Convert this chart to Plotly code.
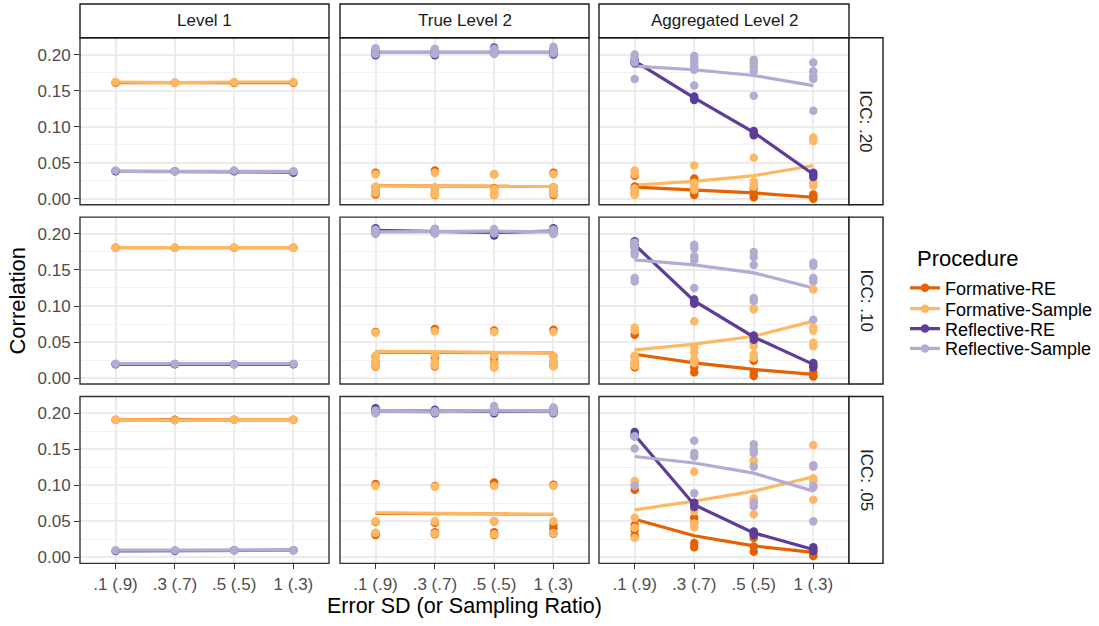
import plotly.graph_objects as go

# ---------------- data ----------------
x_labels = [".1 (.9)", ".3 (.7)", ".5 (.5)", "1 (.3)"]
level_labels = ["Level 1", "True Level 2", "Aggregated Level 2"]
icc_labels = ["ICC: .20", "ICC: .10", "ICC: .05"]
procedures = ["Formative-RE", "Formative-Sample", "Reflective-RE", "Reflective-Sample"]
proc_colors = ["#E66101", "#FDB863", "#5E3C99", "#B2ABD2"]
y_ticks = [0.00, 0.05, 0.10, 0.15, 0.20]

# Level 1
l1_20_pts = {
    "Formative-RE": [[0.161], [0.161], [0.161], [0.161]],
    "Formative-Sample": [[0.162], [0.161], [0.162], [0.162]],
    "Reflective-RE": [[0.038], [0.038], [0.038], [0.036]],
    "Reflective-Sample": [[0.039], [0.038], [0.039], [0.038]],
}
l1_20_mean = {
    "Formative-RE": [0.161, 0.161, 0.161, 0.161],
    "Formative-Sample": [0.162, 0.161, 0.162, 0.162],
    "Reflective-RE": [0.038, 0.038, 0.038, 0.037],
    "Reflective-Sample": [0.038, 0.038, 0.039, 0.038],
}
l1_10_pts = {
    "Formative-RE": [[0.181], [0.181], [0.181], [0.181]],
    "Formative-Sample": [[0.181], [0.181], [0.181], [0.181]],
    "Reflective-RE": [[0.019], [0.019], [0.019], [0.019]],
    "Reflective-Sample": [[0.020], [0.020], [0.019], [0.020]],
}
l1_10_mean = {
    "Formative-RE": [0.181, 0.181, 0.181, 0.181],
    "Formative-Sample": [0.181, 0.181, 0.181, 0.181],
    "Reflective-RE": [0.019, 0.019, 0.019, 0.019],
    "Reflective-Sample": [0.020, 0.020, 0.019, 0.020],
}
l1_05_pts = {
    "Formative-RE": [[0.191], [0.191], [0.191], [0.191]],
    "Formative-Sample": [[0.191], [0.190], [0.191], [0.191]],
    "Reflective-RE": [[0.009], [0.009], [0.010], [0.010]],
    "Reflective-Sample": [[0.010], [0.010], [0.010], [0.010]],
}
l1_05_mean = {
    "Formative-RE": [0.191, 0.191, 0.191, 0.191],
    "Formative-Sample": [0.191, 0.190, 0.191, 0.191],
    "Reflective-RE": [0.009, 0.009, 0.010, 0.010],
    "Reflective-Sample": [0.010, 0.010, 0.010, 0.010],
}

# True Level 2
t2_20_pts = {
    "Formative-RE": [[0.036, 0.016, 0.010, 0.006], [0.039, 0.015, 0.009, 0.005],
                     [0.034, 0.014, 0.008, 0.005], [0.036, 0.016, 0.010, 0.005]],
    "Formative-Sample": [[0.034, 0.017, 0.012, 0.008], [0.036, 0.016, 0.009, 0.006],
                         [0.034, 0.013, 0.009, 0.005], [0.034, 0.016, 0.011, 0.007]],
    "Reflective-RE": [[0.199, 0.203, 0.205], [0.199, 0.202, 0.206],
                      [0.202, 0.206, 0.210], [0.200, 0.203, 0.207]],
    "Reflective-Sample": [[0.201, 0.206, 0.209], [0.201, 0.205, 0.208],
                          [0.201, 0.205, 0.208], [0.202, 0.207, 0.211]],
}
t2_20_mean = {
    "Formative-RE": [0.018, 0.018, 0.017, 0.017],
    "Formative-Sample": [0.018, 0.018, 0.018, 0.017],
    "Reflective-RE": [0.203, 0.203, 0.204, 0.203],
    "Reflective-Sample": [0.203, 0.203, 0.203, 0.203],
}
t2_10_pts = {
    "Formative-RE": [[0.064, 0.030, 0.022, 0.016], [0.068, 0.029, 0.020, 0.016],
                     [0.066, 0.028, 0.021, 0.015], [0.067, 0.030, 0.022, 0.017]],
    "Formative-Sample": [[0.063, 0.031, 0.023, 0.017], [0.065, 0.032, 0.022, 0.017],
                         [0.064, 0.031, 0.020, 0.015], [0.064, 0.030, 0.022, 0.016]],
    "Reflective-RE": [[0.202, 0.205, 0.208], [0.201, 0.204, 0.207],
                      [0.198, 0.201, 0.204], [0.202, 0.205, 0.208]],
    "Reflective-Sample": [[0.200, 0.203, 0.206], [0.201, 0.204, 0.207],
                          [0.201, 0.204, 0.207], [0.200, 0.203, 0.206]],
}
t2_10_mean = {
    "Formative-RE": [0.036, 0.036, 0.035, 0.035],
    "Formative-Sample": [0.037, 0.036, 0.035, 0.035],
    "Reflective-RE": [0.205, 0.204, 0.202, 0.204],
    "Reflective-Sample": [0.203, 0.204, 0.204, 0.203],
}
t2_05_pts = {
    "Formative-RE": [[0.102, 0.049, 0.034, 0.031], [0.099, 0.048, 0.035, 0.032],
                     [0.104, 0.050, 0.035, 0.031], [0.101, 0.045, 0.040, 0.033]],
    "Formative-Sample": [[0.099, 0.050, 0.034], [0.098, 0.050, 0.033],
                         [0.099, 0.050, 0.032], [0.099, 0.050, 0.034]],
    "Reflective-RE": [[0.201, 0.204, 0.207], [0.200, 0.203, 0.205],
                      [0.200, 0.203, 0.206], [0.200, 0.203, 0.206]],
    "Reflective-Sample": [[0.200, 0.204], [0.201, 0.203],
                          [0.202, 0.206, 0.210], [0.201, 0.205, 0.208]],
}
t2_05_mean = {
    "Formative-RE": [0.061, 0.061, 0.061, 0.060],
    "Formative-Sample": [0.062, 0.061, 0.061, 0.060],
    "Reflective-RE": [0.203, 0.203, 0.203, 0.203],
    "Reflective-Sample": [0.203, 0.202, 0.204, 0.203],
}

# Aggregated Level 2
ag_20_pts = {
    "Formative-RE": [[0.032, 0.017, 0.013, 0.008], [0.028, 0.012, 0.009, 0.005],
                     [0.014, 0.006, 0.002], [0.006, 0.003, 0.000]],
    "Formative-Sample": [[0.039, 0.034, 0.014, 0.009, 0.005], [0.046, 0.022, 0.018, 0.012],
                         [0.057, 0.024, 0.020, 0.017], [0.085, 0.080, 0.023, 0.018]],
    "Reflective-RE": [[0.193, 0.190, 0.188], [0.142, 0.139, 0.137],
                      [0.094, 0.091, 0.088], [0.036, 0.033, 0.030]],
    "Reflective-Sample": [[0.200, 0.196, 0.189, 0.166], [0.198, 0.193, 0.189, 0.184, 0.179, 0.157],
                          [0.193, 0.189, 0.184, 0.177, 0.143], [0.189, 0.177, 0.170, 0.166, 0.122]],
}
ag_20_mean = {
    "Formative-RE": [0.016, 0.012, 0.008, 0.002],
    "Formative-Sample": [0.019, 0.024, 0.032, 0.046],
    "Reflective-RE": [0.191, 0.140, 0.092, 0.034],
    "Reflective-Sample": [0.184, 0.179, 0.171, 0.157],
}
ag_10_pts = {
    "Formative-RE": [[0.060, 0.030, 0.020, 0.015], [0.024, 0.015, 0.008],
                     [0.024, 0.008, 0.003], [0.008, 0.004, 0.002]],
    "Formative-Sample": [[0.070, 0.066, 0.031, 0.024, 0.017], [0.079, 0.042, 0.035, 0.026, 0.021],
                         [0.097, 0.095, 0.049, 0.044, 0.033, 0.028], [0.123, 0.070, 0.066, 0.049, 0.044]],
    "Reflective-RE": [[0.190, 0.186, 0.182], [0.109, 0.106, 0.103],
                      [0.059, 0.056, 0.053], [0.021, 0.018, 0.015]],
    "Reflective-Sample": [[0.188, 0.182, 0.175, 0.171, 0.139, 0.134], [0.185, 0.180, 0.169, 0.164, 0.125],
                          [0.175, 0.168, 0.157, 0.111, 0.107], [0.160, 0.156, 0.139, 0.134, 0.081]],
}
ag_10_mean = {
    "Formative-RE": [0.033, 0.021, 0.012, 0.005],
    "Formative-Sample": [0.039, 0.047, 0.058, 0.079],
    "Reflective-RE": [0.185, 0.107, 0.057, 0.019],
    "Reflective-Sample": [0.164, 0.157, 0.146, 0.125],
}
ag_05_pts = {
    "Formative-RE": [[0.094, 0.045, 0.038, 0.030], [0.055, 0.048, 0.020, 0.014],
                     [0.032, 0.027, 0.015, 0.008], [0.009, 0.004, 0.002]],
    "Formative-Sample": [[0.106, 0.102, 0.055, 0.041, 0.027], [0.119, 0.066, 0.064, 0.047, 0.042],
                         [0.135, 0.133, 0.082, 0.078, 0.060], [0.156, 0.110, 0.106, 0.080]],
    "Reflective-RE": [[0.174, 0.171, 0.168], [0.076, 0.073, 0.070],
                      [0.036, 0.034, 0.031], [0.014, 0.012, 0.009]],
    "Reflective-Sample": [[0.168, 0.151, 0.099], [0.162, 0.145, 0.140, 0.089],
                          [0.157, 0.150, 0.145, 0.126, 0.076, 0.071], [0.128, 0.126, 0.099, 0.097, 0.050]],
}
ag_05_mean = {
    "Formative-RE": [0.053, 0.030, 0.016, 0.007],
    "Formative-Sample": [0.066, 0.078, 0.092, 0.112],
    "Reflective-RE": [0.170, 0.073, 0.034, 0.011],
    "Reflective-Sample": [0.140, 0.131, 0.117, 0.092],
}

panel_points = [[l1_20_pts, t2_20_pts, ag_20_pts],
                [l1_10_pts, t2_10_pts, ag_10_pts],
                [l1_05_pts, t2_05_pts, ag_05_pts]]
panel_means = [[l1_20_mean, t2_20_mean, ag_20_mean],
               [l1_10_mean, t2_10_mean, ag_10_mean],
               [l1_05_mean, t2_05_mean, ag_05_mean]]

# ---------------- layout geometry ----------------
W, H = 1099, 626
FONT = "Arial, Liberation Sans, sans-serif"
col_px = [(80, 329), (340, 589), (599, 849)]
row_px = [(38, 206), (218.5, 386.5), (399, 567)]
strip_top = (4, 38)
strip_right = (849, 883)
y_range = [-0.0083, 0.2234]
x_range = [0.4, 4.6]
LINE_W = 3.2
MARK_SIZE = 8.5


def fx(p):
    return p / W


def fy(p):
    return 1 - p / H


fig = go.Figure()
layout = {}
shapes = []
annotations = []
xpos = [1, 2, 3, 4]

for r in range(3):
    for c in range(3):
        k = r * 3 + c + 1
        xa = "xaxis" if k == 1 else f"xaxis{k}"
        ya = "yaxis" if k == 1 else f"yaxis{k}"
        xr = "x" if k == 1 else f"x{k}"
        yr = "y" if k == 1 else f"y{k}"
        layout[xa] = dict(
            domain=[fx(col_px[c][0]), fx(col_px[c][1])], range=x_range, anchor=yr,
            tickvals=xpos, ticktext=x_labels, showticklabels=(r == 2),
            ticks="outside" if r == 2 else "", ticklen=5, tickwidth=1.2, tickcolor="#333333",
            tickfont=dict(family=FONT, size=17, color="#4D4D4D"),
            showgrid=True, gridcolor="#EBEBEB", gridwidth=2, zeroline=False, showline=False,
            fixedrange=True,
        )
        layout[ya] = dict(
            domain=[fy(row_px[r][1]), fy(row_px[r][0])], range=y_range, anchor=xr,
            tickvals=y_ticks, ticktext=[f"{v:.2f}" for v in y_ticks], showticklabels=(c == 0),
            ticks="outside" if c == 0 else "", ticklen=5, tickwidth=1.2, tickcolor="#333333",
            tickfont=dict(family=FONT, size=17, color="#4D4D4D"),
            showgrid=True, gridcolor="#EBEBEB", gridwidth=2, zeroline=False, showline=False,
            minor=dict(tickvals=[0.025, 0.075, 0.125, 0.175, 0.225], showgrid=True,
                       gridcolor="#F2F2F2", gridwidth=1, ticks=""),
            fixedrange=True,
        )
        pts = panel_points[r][c]
        means = panel_means[r][c]
        # lines first
        for p, col in zip(procedures, proc_colors):
            fig.add_trace(go.Scatter(
                x=xpos, y=means[p], xaxis=xr, yaxis=yr, mode="lines",
                line=dict(color=col, width=LINE_W), showlegend=False, hoverinfo="skip"))
        for p, col in zip(procedures, proc_colors):
            xs, ys = [], []
            for i, vals in enumerate(pts[p]):
                for v in vals:
                    xs.append(xpos[i])
                    ys.append(v)
            fig.add_trace(go.Scatter(
                x=xs, y=ys, xaxis=xr, yaxis=yr, mode="markers",
                marker=dict(color=col, size=MARK_SIZE, line=dict(width=0)),
                showlegend=False, hoverinfo="skip"))
        # panel border
        shapes.append(dict(type="rect", xref="paper", yref="paper",
                           x0=fx(col_px[c][0]), x1=fx(col_px[c][1]),
                           y0=fy(row_px[r][1]), y1=fy(row_px[r][0]),
                           line=dict(color="#333333", width=1.4), layer="above"))

# top strips
for c in range(3):
    shapes.append(dict(type="rect", xref="paper", yref="paper",
                       x0=fx(col_px[c][0]), x1=fx(col_px[c][1]),
                       y0=fy(strip_top[1]), y1=fy(strip_top[0]),
                       line=dict(color="#1A1A1A", width=1.4), fillcolor="white", layer="above"))
    annotations.append(dict(text=level_labels[c], xref="paper", yref="paper",
                            x=fx((col_px[c][0] + col_px[c][1]) / 2),
                            y=fy((strip_top[0] + strip_top[1]) / 2),
                            showarrow=False, xanchor="center", yanchor="middle",
                            font=dict(family=FONT, size=17, color="#1A1A1A")))
# right strips
for r in range(3):
    shapes.append(dict(type="rect", xref="paper", yref="paper",
                       x0=fx(strip_right[0]), x1=fx(strip_right[1]),
                       y0=fy(row_px[r][1]), y1=fy(row_px[r][0]),
                       line=dict(color="#1A1A1A", width=1.4), fillcolor="white", layer="above"))
    annotations.append(dict(text=icc_labels[r], xref="paper", yref="paper",
                            x=fx((strip_right[0] + strip_right[1]) / 2),
                            y=fy((row_px[r][0] + row_px[r][1]) / 2),
                            showarrow=False, xanchor="center", yanchor="middle", textangle=90,
                            font=dict(family=FONT, size=17, color="#1A1A1A")))

# axis titles
annotations.append(dict(text="Correlation", xref="paper", yref="paper",
                        x=fx(18), y=fy((row_px[0][0] + row_px[2][1]) / 2),
                        showarrow=False, xanchor="center", yanchor="middle", textangle=-90,
                        font=dict(family=FONT, size=22, color="black")))
annotations.append(dict(text="Error SD (or Sampling Ratio)", xref="paper", yref="paper",
                        x=fx((col_px[0][0] + col_px[2][1]) / 2), y=fy(610),
                        showarrow=False, xanchor="center", yanchor="middle",
                        font=dict(family=FONT, size=21.5, color="black")))
# legend title
annotations.append(dict(text="Procedure", xref="paper", yref="paper",
                        x=fx(915), y=fy(260), showarrow=False, xanchor="left", yanchor="middle",
                        font=dict(family=FONT, size=22, color="black")))

# legend entries (one legend per entry for exact spacing)
legend_y_px = [290, 311, 331, 351]
for i, (p, col) in enumerate(zip(procedures, proc_colors)):
    lname = "legend" if i == 0 else f"legend{i + 1}"
    fig.add_trace(go.Scatter(
        x=[None], y=[None], mode="lines+markers", name=p, legend=lname,
        line=dict(color=col, width=LINE_W), marker=dict(color=col, size=MARK_SIZE),
        showlegend=True))
    layout[lname] = dict(x=fx(905), y=fy(legend_y_px[i]), xanchor="left", yanchor="middle",
                         bgcolor="rgba(0,0,0,0)", borderwidth=0, itemwidth=30,
                         font=dict(family=FONT, size=18, color="black"))

fig.update_layout(
    width=W, height=H, margin=dict(l=0, r=0, t=0, b=0),
    paper_bgcolor="white", plot_bgcolor="white",
    shapes=shapes, annotations=annotations, **layout,
)

fig.write_html("out.html")
